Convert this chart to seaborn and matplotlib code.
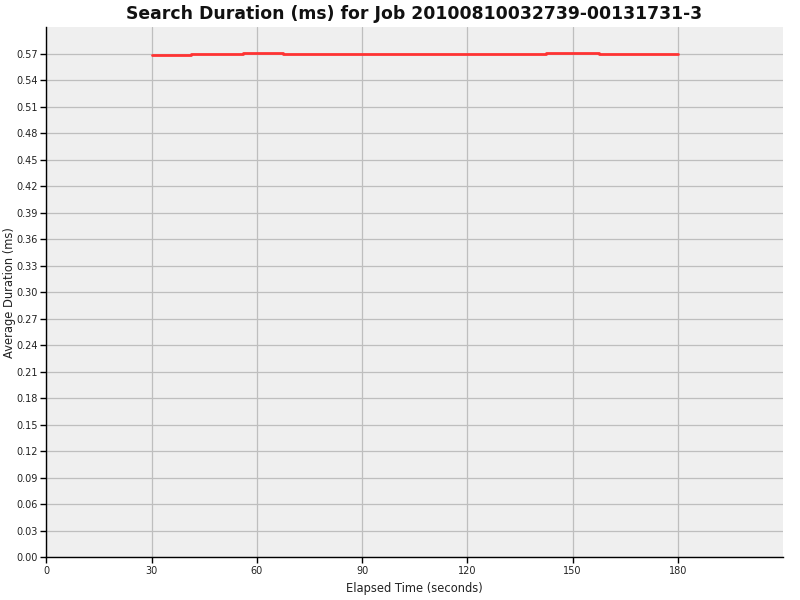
import matplotlib
matplotlib.use("Agg")
import matplotlib.pyplot as plt
import seaborn as sns
import pandas as pd
import numpy as np

# Data
elapsed_s = [30.0, 41.1, 56.0, 67.4, 142.4, 157.5, 180.0]
avg_duration_ms = [0.5680, 0.5695, 0.5710, 0.5695, 0.5710, 0.5695, 0.5695]
x_ticks = [0, 30, 60, 90, 120, 150, 180]
y_ticks = [round(0.03 * i, 2) for i in range(20)]

title = "Search Duration (ms) for Job 20100810032739-00131731-3"
x_label = "Elapsed Time (seconds)"
y_label = "Average Duration (ms)"

df = pd.DataFrame({"t": elapsed_s, "d": avg_duration_ms})

sns.set_style("white")
plt.rcParams['font.family'] = ['DejaVu Sans']

fig = plt.figure(figsize=(8, 6), dpi=100)
ax = fig.add_axes([0.058, 0.071, 0.921, 0.884])
ax.set_facecolor("#EFEFEF")

sns.lineplot(data=df, x="t", y="d", ax=ax, color="#FF3333", linewidth=2.0,
             drawstyle="steps-post", estimator=None, sort=False)

ax.set_xlim(0, 210)
ax.set_ylim(0, 0.6)
ax.set_xticks(x_ticks)
ax.set_yticks(y_ticks)
ax.set_yticklabels([f"{v:.2f}" for v in y_ticks])
ax.grid(True, color="#BEBEBE", linewidth=0.9)
ax.set_axisbelow(True)

for s in ["top", "right"]:
    ax.spines[s].set_visible(False)
for s in ["left", "bottom"]:
    ax.spines[s].set_color("black")
    ax.spines[s].set_linewidth(1.0)

ax.tick_params(axis="both", which="major", direction="out", length=4, width=1,
               color="black", labelsize=7, labelcolor="#222222",
               left=True, bottom=True, pad=2)

ax.set_xlabel(x_label, fontsize=8.3, color="#222222")
ax.set_ylabel(y_label, fontsize=8.3, color="#222222")
ax.xaxis.set_label_coords(0.5, -0.047)
ax.yaxis.set_label_coords(-0.041, 0.5)
fig.suptitle(title, fontsize=12.4, fontweight="bold", x=0.517, y=0.992, color="#111111")

fig.savefig("out.png", dpi=100, facecolor="white")
